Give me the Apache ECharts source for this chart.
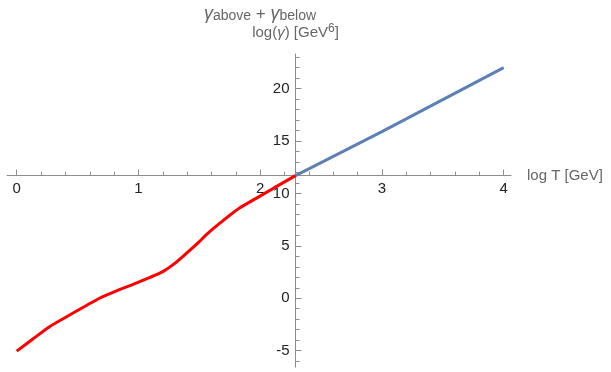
<!DOCTYPE html>
<html>
<head>
<meta charset="utf-8">
<script src="https://cdn.jsdelivr.net/npm/echarts@6/dist/echarts.min.js"></script>
<style>html,body{margin:0;padding:0;background:#fff;}#c{width:611px;height:372px;}</style>
</head>
<body>
<div id="c"></div>
<script>
// Data
const redX = [0, 0.14, 0.27, 0.41, 0.58, 0.68, 0.82, 0.96, 1.09, 1.2, 1.29, 1.4, 1.5, 1.56, 1.7, 1.83, 1.97, 2.11, 2.29];
const redY = [-5.05, -3.82, -2.71, -1.76, -0.64, 0.0, 0.70, 1.34, 1.97, 2.54, 3.25, 4.35, 5.4, 6.1, 7.45, 8.6, 9.55, 10.5, 11.7];
const blueX = [2.29, 3, 4];
const blueY = [11.7, 15.9, 22.0];
const xMajorTicks = [0, 1, 2, 3, 4];
const xMinorTicks = [0.2, 0.4, 0.6, 0.8, 1.2, 1.4, 1.6, 1.8, 2.2, 2.4, 2.6, 2.8, 3.2, 3.4, 3.6, 3.8];
const yMajorTicks = [-5, 0, 5, 10, 15, 20];
const yMinorTicks = [-6, -4, -3, -2, -1, 1, 2, 3, 4, 6, 7, 8, 9, 11, 12, 13, 14, 16, 17, 18, 19, 21, 22, 23];
const xRange = [-0.08, 4.06];
const yRange = [-6.56, 23.3];
const xCross = 11.7;   // y value where horizontal axis sits
const yCross = 2.29;   // x value where vertical axis sits

const zip = (a, b) => a.map((v, i) => [v, b[i]]);

const G = {left: 7, right: 100, top: 54, bottom: 5};
const W = 611, H = 372;
const gw = W - G.left - G.right, gh = H - G.top - G.bottom;
const xOff = -((xCross - yRange[0]) / (yRange[1] - yRange[0]) * gh);
const yOff = -((yCross - xRange[0]) / (xRange[1] - xRange[0]) * gw);

const axisGray = '#8c8c8c';
const font = 'Liberation Sans, Arial, sans-serif';

function xAx(major) {
  return {
    type: 'value', min: xRange[0], max: xRange[1], position: 'bottom', offset: xOff,
    axisLine: {show: major, onZero: false, lineStyle: {color: axisGray, width: 1}},
    axisTick: {show: true, inside: true, length: major ? 6 : 4, customValues: major ? xMajorTicks : xMinorTicks, lineStyle: {color: axisGray}},
    axisLabel: {show: major, customValues: major ? xMajorTicks : xMinorTicks, color: '#222', fontSize: 15, fontFamily: font, margin: 6},
    splitLine: {show: false},
    name: major ? 'log T [GeV]' : '', nameLocation: 'end', nameGap: 16,
    nameTextStyle: {color: '#666', fontSize: 15, fontFamily: font}
  };
}
function yAx(major) {
  return {
    type: 'value', min: yRange[0], max: yRange[1], position: 'left', offset: yOff,
    axisLine: {show: major, onZero: false, lineStyle: {color: axisGray, width: 1}},
    axisTick: {show: true, inside: true, length: major ? 6 : 4, customValues: major ? yMajorTicks : yMinorTicks, lineStyle: {color: axisGray}},
    axisLabel: {show: major, customValues: major ? yMajorTicks : yMinorTicks, color: '#222', fontSize: 15, fontFamily: font, margin: 6},
    splitLine: {show: false},
    name: major ? '{a|log(}{i|γ}{a|) [GeV}{s|6}{a|]}' : '', nameLocation: 'end', nameGap: 11,
    nameTextStyle: {
      color: '#666', fontSize: 15, fontFamily: font,
      rich: {
        a: {color: '#666', fontSize: 15, fontFamily: font, lineHeight: 20},
        i: {color: '#666', fontSize: 15, fontFamily: font, fontStyle: 'italic', lineHeight: 20},
        s: {color: '#666', fontSize: 12, fontFamily: font, verticalAlign: 'top', lineHeight: 20, padding: [0, 0, 8, 0]}
      }
    }
  };
}

const chart = echarts.init(document.getElementById('c'), null, {renderer: 'canvas'});
chart.setOption({
  animation: false,
  backgroundColor: '#fff',
  title: {
    text: '{g|γ}{s|above}{p| + }{g|γ}{s|below}',
    left: 199, top: -2,
    textStyle: {
      fontWeight: 'normal',
      rich: {
        g: {color: '#666', fontSize: 18, fontStyle: 'italic', fontWeight: 'normal', fontFamily: font, lineHeight: 22},
        s: {color: '#666', fontSize: 14, fontWeight: 'normal', fontFamily: font, lineHeight: 22, padding: [4, 0, 0, 0]},
        p: {color: '#666', fontSize: 17, fontWeight: 'normal', fontFamily: font, lineHeight: 22}
      }
    }
  },
  grid: {left: G.left, right: G.right, top: G.top, bottom: G.bottom, containLabel: false},
  xAxis: [xAx(true), xAx(false)],
  yAxis: [yAx(true), yAx(false)],
  series: [
    {type: 'line', xAxisIndex: 0, yAxisIndex: 0, data: zip(blueX, blueY), showSymbol: false,
     lineStyle: {color: '#5E81B5', width: 3}, itemStyle: {color: '#5E81B5'}},
    {type: 'line', xAxisIndex: 0, yAxisIndex: 0, data: zip(redX, redY), showSymbol: false, smooth: 0.25,
     lineStyle: {color: '#ff0000', width: 3}, itemStyle: {color: '#ff0000'}}
  ]
});
</script>
</body>
</html>
